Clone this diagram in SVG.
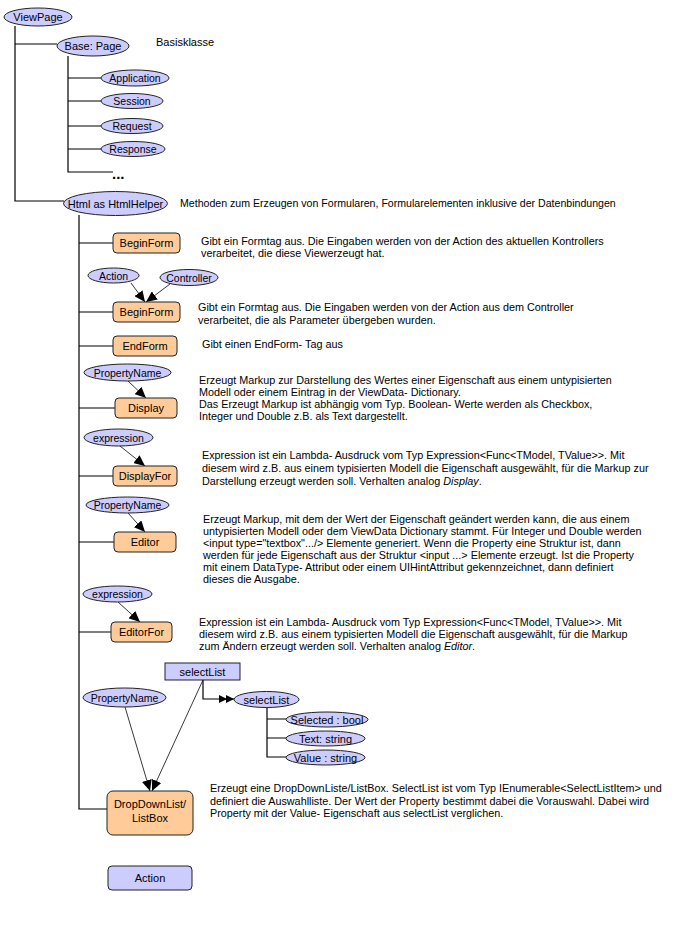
<svg xmlns="http://www.w3.org/2000/svg" width="680" height="945" viewBox="0 0 680 945">
<style>
text{font-family:"Liberation Sans",Arial,sans-serif;font-size:11px;fill:#000}
.c{text-anchor:middle}
.e{font-size:10.5px}
.d{font-size:10.8px}
.el{fill:#ccccff;stroke:#222;stroke-width:1}
.bx{fill:#ffcc99;stroke:#222;stroke-width:1}
.bl{fill:#ccccff;stroke:#222;stroke-width:1}
.t{fill:none;stroke:#000;stroke-width:1.2}
.a{fill:none;stroke:#222;stroke-width:0.9}
</style>
<defs>
<marker id="ah" markerUnits="userSpaceOnUse" markerWidth="12" markerHeight="10" refX="11" refY="5" orient="auto">
<path d="M0,0 L11,5 L0,10 z" fill="#000"/>
</marker>
<marker id="ah2" markerUnits="userSpaceOnUse" markerWidth="16" markerHeight="10" refX="15" refY="4" orient="auto">
<path d="M0,0 L8,4 L0,8 z M7,0 L15,4 L7,8 z" fill="#000"/>
</marker>
</defs>
<rect width="680" height="945" fill="#fff"/>
<g id="connectors">
<path class="t" d="M15,26 V201 H64"/>
<path class="t" d="M15,44 H57"/>
<path class="t" d="M68,56 V172 H113"/>
<path class="t" d="M68,78 H101 M68,101 H101 M68,126 H101 M68,149 H101"/>
<path class="t" d="M79,215 V809 H107"/>
<path class="t" d="M79,243 H113 M79,312 H113 M79,346 H113 M79,408 H115 M79,476 H113 M79,542 H114 M79,632 H111"/>
<line class="a" x1="131" y1="283" x2="145" y2="302" marker-end="url(#ah)"/>
<line class="a" x1="170" y1="284" x2="146" y2="302" marker-end="url(#ah)"/>
<line class="a" x1="128" y1="381" x2="146" y2="398" marker-end="url(#ah)"/>
<line class="a" x1="120" y1="446" x2="145" y2="466" marker-end="url(#ah)"/>
<line class="a" x1="128" y1="513" x2="145" y2="532" marker-end="url(#ah)"/>
<line class="a" x1="118" y1="602" x2="140" y2="622" marker-end="url(#ah)"/>
<line class="a" x1="125" y1="707" x2="150" y2="791" marker-end="url(#ah)"/>
<line class="a" x1="203" y1="680" x2="152" y2="791" marker-end="url(#ah)"/>
<path class="t" d="M203,680 V699 H234" marker-end="url(#ah2)"/>
<path class="t" d="M267,707 V757 H286 M267,719 H286 M267,738 H286"/>
</g>
<g id="viewpage"><ellipse class="el" cx="38" cy="17" rx="34" ry="9"/><text class="c" x="38" y="21">ViewPage</text></g>
<g id="basepage"><ellipse class="el" cx="93" cy="46" rx="36" ry="10"/><text class="c" x="93" y="50">Base: Page</text></g>
<g id="basisklasse-label"><text x="156" y="46">Basisklasse</text></g>
<g id="application"><ellipse class="el" cx="135" cy="78" rx="34" ry="8"/><text class="c e" x="135" y="82">Application</text></g>
<g id="session"><ellipse class="el" cx="132" cy="101" rx="31" ry="7.5"/><text class="c e" x="132" y="105">Session</text></g>
<g id="request"><ellipse class="el" cx="132" cy="126" rx="31" ry="7.5"/><text class="c e" x="132" y="130">Request</text></g>
<g id="response"><ellipse class="el" cx="133" cy="149" rx="32" ry="7.5"/><text class="c e" x="133" y="153">Response</text></g>
<g id="more"><text x="112" y="179" style="font-size:15px;font-weight:bold">...</text></g>
<g id="htmlhelper"><ellipse class="el" cx="115.5" cy="203.5" rx="52" ry="12"/><text class="c" x="115.5" y="207.5">Html as HtmlHelper</text></g>
<g id="htmlhelper-label"><text class="d" x="180" y="207" style="font-size:10.6px">Methoden zum Erzeugen von Formularen, Formularelementen inklusive der Datenbindungen</text></g>
<g id="beginform1"><rect class="bx" x="113" y="233" width="67" height="20" rx="4"/><text class="c" x="146.5" y="247">BeginForm</text>
<text class="d" x="201" y="245">Gibt ein Formtag aus. Die Eingaben werden von der Action des aktuellen Kontrollers</text>
<text class="d" x="201" y="257">verarbeitet, die diese Viewerzeugt hat.</text></g>
<g id="action-param"><ellipse class="el" cx="113.5" cy="275.5" rx="25.5" ry="7.5"/><text class="c e" x="113.5" y="279.5">Action</text></g>
<g id="controller-param"><ellipse class="el" cx="189" cy="277.5" rx="29" ry="8"/><text class="c e" x="189" y="281.5">Controller</text></g>
<g id="beginform2"><rect class="bx" x="113" y="302" width="67" height="20" rx="4"/><text class="c" x="146.5" y="316">BeginForm</text>
<text class="d" x="198" y="311">Gibt ein Formtag aus. Die Eingaben werden von der Action aus dem Controller</text>
<text class="d" x="198" y="324">verarbeitet, die als Parameter übergeben wurden.</text></g>
<g id="endform"><rect class="bx" x="113" y="336" width="64" height="20" rx="4"/><text class="c" x="145" y="350">EndForm</text>
<text class="d" x="202" y="348">Gibt einen EndForm- Tag aus</text></g>
<g id="display-param"><ellipse class="el" cx="127.5" cy="372.5" rx="43.5" ry="8.5"/><text class="c e" x="127.5" y="376.5">PropertyName</text></g>
<g id="display"><rect class="bx" x="115" y="398" width="62" height="20" rx="4"/><text class="c" x="146" y="412">Display</text>
<text class="d" x="199" y="384">Erzeugt Markup zur Darstellung des Wertes einer Eigenschaft aus einem  untypisierten</text>
<text class="d" x="199" y="396">Modell oder einem Eintrag in der ViewData- Dictionary.</text>
<text class="d" x="199" y="408">Das Erzeugt Markup ist abhängig vom Typ. Boolean- Werte werden als Checkbox,</text>
<text class="d" x="199" y="420">Integer und Double z.B. als Text dargestellt.</text></g>
<g id="displayfor-param"><ellipse class="el" cx="118.5" cy="437.5" rx="34.5" ry="8.5"/><text class="c e" x="118.5" y="441.5">expression</text></g>
<g id="displayfor"><rect class="bx" x="113" y="466" width="64" height="20" rx="4"/><text class="c" x="145" y="480">DisplayFor</text>
<text class="d" x="202" y="459">Expression ist ein Lambda- Ausdruck vom Typ Expression&lt;Func&lt;TModel, TValue&gt;&gt;. Mit</text>
<text class="d" x="202" y="472">diesem wird z.B. aus einem typisierten Modell die Eigenschaft ausgewählt, für die Markup zur</text>
<text class="d" x="202" y="485">Darstellung erzeugt werden soll. Verhalten analog <tspan font-style="italic">Display</tspan>.</text></g>
<g id="editor-param"><ellipse class="el" cx="127.5" cy="505" rx="41.5" ry="8"/><text class="c e" x="127.5" y="509">PropertyName</text></g>
<g id="editor"><rect class="bx" x="114" y="532" width="62" height="20" rx="4"/><text class="c" x="145" y="546">Editor</text>
<text class="d" x="203" y="523">Erzeugt Markup, mit dem der Wert der Eigenschaft geändert werden kann, die aus einem</text>
<text class="d" x="203" y="535">untypisierten Modell oder dem ViewData Dictionary stammt. Für Integer und Double werden</text>
<text class="d" x="203" y="547">&lt;input type="textbox".../&gt; Elemente generiert. Wenn die Property eine Struktur ist, dann</text>
<text class="d" x="203" y="559">werden für jede Eigenschaft aus der Struktur &lt;input ...&gt; Elemente erzeugt. Ist die Property</text>
<text class="d" x="203" y="571">mit einem DataType- Attribut oder einem UIHintAttribut gekennzeichnet, dann definiert</text>
<text class="d" x="203" y="583">dieses die Ausgabe.</text></g>
<g id="editorfor-param"><ellipse class="el" cx="117.5" cy="594" rx="34.5" ry="8"/><text class="c e" x="117.5" y="598">expression</text></g>
<g id="editorfor"><rect class="bx" x="111" y="622" width="61" height="20" rx="4"/><text class="c" x="141.5" y="636">EditorFor</text>
<text class="d" x="199" y="626">Expression ist ein Lambda- Ausdruck vom Typ Expression&lt;Func&lt;TModel, TValue&gt;&gt;. Mit</text>
<text class="d" x="199" y="638">diesem wird z.B. aus einem typisierten Modell die Eigenschaft ausgewählt, für die Markup</text>
<text class="d" x="199" y="650">zum Ändern erzeugt werden soll. Verhalten analog <tspan font-style="italic">Editor</tspan>.</text></g>
<g id="selectlist-param"><rect class="bl" x="165" y="663" width="75" height="17"/><text class="c" x="202.5" y="675.5">selectList</text></g>
<g id="ddl-param"><ellipse class="el" cx="124.5" cy="697.5" rx="41.5" ry="9.5"/><text class="c e" x="124.5" y="701.5">PropertyName</text></g>
<g id="selectlist"><ellipse class="el" cx="266.5" cy="699.5" rx="32.5" ry="8"/><text class="c" x="266.5" y="703.5">selectList</text></g>
<g id="selected"><ellipse class="el" cx="327" cy="719.5" rx="41" ry="7.5"/><text class="c" x="327" y="723.5">Selected : bool</text></g>
<g id="textstring"><ellipse class="el" cx="325.5" cy="738.5" rx="39.5" ry="7.5"/><text class="c" x="325.5" y="742.5">Text: string</text></g>
<g id="valuestring"><ellipse class="el" cx="325.5" cy="757.5" rx="39.5" ry="7.5"/><text class="c" x="325.5" y="761.5">Value : string</text></g>
<g id="dropdownlist"><rect class="bx" x="107" y="791" width="86" height="44" rx="6"/><text class="c" x="150" y="808">DropDownList/</text><text class="c" x="150" y="822">ListBox</text>
<text class="d" x="210" y="792">Erzeugt eine DropDownListe/ListBox. SelectList ist vom Typ  IEnumerable&lt;SelectListItem&gt; und</text>
<text class="d" x="210" y="805">definiert die Auswahlliste. Der Wert der Property bestimmt dabei die Vorauswahl. Dabei wird</text>
<text class="d" x="210" y="817">Property mit der Value- Eigenschaft aus selectList verglichen.</text></g>
<g id="action"><rect class="bl" x="108" y="866" width="84" height="24" rx="4"/><text class="c" x="150" y="882">Action</text></g>
</svg>
